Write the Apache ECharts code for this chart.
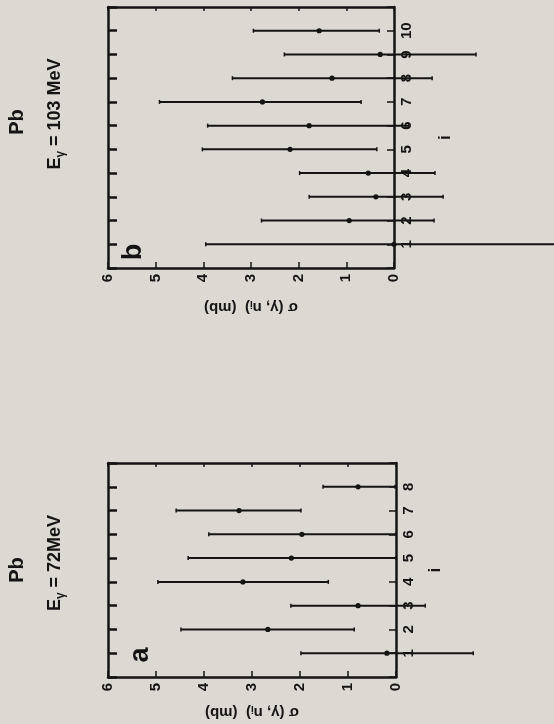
<!DOCTYPE html>
<html><head><meta charset="utf-8">
<script src="https://cdn.jsdelivr.net/npm/echarts@6/dist/echarts.min.js"></script>
<style>html,body{margin:0;padding:0;background:#dcd9d3;} #c{width:554px;height:724px;}</style>
</head><body><div id="c"></div>
<script>
// ---- Panel a : Pb, E_gamma = 72 MeV ----
const catsA  = [1, 2, 3, 4, 5, 6, 7, 8];
const valA   = [0.19, 2.67, 0.79, 3.19, 2.18, 1.96, 3.27, 0.79];
const lowA   = [-1.61, 0.87, -0.61, 1.41, 0.00, 0.00, 1.98, 0.02];
const highA  = [1.98, 4.48, 2.19, 4.96, 4.33, 3.90, 4.58, 1.52];
// ---- Panel b : Pb, E_gamma = 103 MeV ----
const catsB  = [1, 2, 3, 4, 5, 6, 7, 8, 9, 10];
const valB   = [0.00, 0.94, 0.38, 0.54, 2.18, 1.78, 2.76, 1.30, 0.29, 1.57];
const lowB   = [-3.95, -0.84, -1.03, -0.86, 0.36, -0.31, 0.69, -0.80, -1.72, 0.31];
const highB  = [3.95, 2.78, 1.78, 1.98, 4.02, 3.91, 4.92, 3.39, 2.30, 2.95];
// ---- axis texts ----
const sigmaMin = 0, sigmaMax = 6;
const titleA = ['Pb', '72MeV'];
const titleB = ['Pb', '103 MeV'];

const INK = '#141414';
const FONT = "'Liberation Sans', 'DejaVu Sans', sans-serif";

function renderBars(params, api) {
  const i = api.value(1);
  const pV = api.coord([api.value(0), i]);
  const pL = api.coord([api.value(2), i]);
  const pH = api.coord([api.value(3), i]);
  const cap = 2;
  return {
    type: 'group',
    children: [
      {type: 'line', shape: {x1: pL[0], y1: pL[1], x2: pH[0], y2: pH[1]}, style: {stroke: INK, lineWidth: 2}},
      {type: 'line', shape: {x1: pL[0], y1: pL[1] - cap, x2: pL[0], y2: pL[1] + cap}, style: {stroke: INK, lineWidth: 1.5}},
      {type: 'line', shape: {x1: pH[0], y1: pH[1] - cap, x2: pH[0], y2: pH[1] + cap}, style: {stroke: INK, lineWidth: 1.5}},
      {type: 'circle', shape: {cx: pV[0], cy: pV[1], r: 2.6}, style: {fill: INK}}
    ]
  };
}

function xAxes(grid, bottom, gap) {
  const base = {
    type: 'value', gridIndex: grid, min: sigmaMin, max: sigmaMax, interval: 1, inverse: true,
    splitLine: {show: false},
    axisLine: {show: true, onZero: false, lineStyle: {color: INK, width: 2.5}}
  };
  if (bottom) {
    return Object.assign({}, base, {
      position: 'bottom',
      axisTick: {show: true, inside: true, length: 6, lineStyle: {color: INK, width: 1.5}},
      axisLabel: {show: true, rotate: 90, margin: 6, color: INK, fontSize: 15, fontWeight: 'bold', fontFamily: FONT},
      name: '{t|σ (γ, n}{s|i}{t|)  (mb)}',
      nameLocation: 'middle', nameRotate: 180, nameGap: gap,
      nameTextStyle: {color: INK, fontFamily: FONT, rich: {
        t: {fontSize: 15, fontWeight: 'bold', fontFamily: FONT, color: INK},
        s: {fontSize: 10, fontWeight: 'bold', fontFamily: FONT, color: INK, padding: [7, 0, 0, 0]}
      }}
    });
  }
  return Object.assign({}, base, {
    position: 'top',
    axisTick: {show: true, inside: true, length: 4, lineStyle: {color: INK, width: 1.5}},
    axisLabel: {show: false}
  });
}

function yAxes(grid, maxI, right, gap) {
  const base = {
    type: 'value', gridIndex: grid, min: 0, max: maxI, interval: 1,
    splitLine: {show: false},
    axisLine: {show: true, onZero: false, lineStyle: {color: INK, width: 2.5}}
  };
  if (right) {
    return Object.assign({}, base, {
      position: 'right',
      axisTick: {show: true, inside: true, length: 7, lineStyle: {color: INK, width: 1.5}},
      axisLabel: {show: true, rotate: 90, margin: 5, color: INK, fontSize: 15, fontWeight: 'bold', fontFamily: FONT,
        formatter: v => (v >= 1 && v < maxI) ? String(v) : ''},
      name: 'i', nameLocation: 'middle', nameRotate: 90, nameGap: gap,
      nameTextStyle: {color: INK, fontSize: 16, fontWeight: 'bold', fontFamily: FONT}
    });
  }
  return Object.assign({}, base, {
    position: 'left',
    axisTick: {show: true, inside: true, length: 9, lineStyle: {color: INK, width: 2.5}},
    axisLabel: {show: false}
  });
}

function titleText(x, y, parts, size) {
  return {type: 'text', x: x, y: y, rotation: Math.PI / 2,
    style: {text: parts, fill: INK, font: 'bold ' + size + 'px ' + FONT, align: 'center', verticalAlign: 'middle'}};
}
function energyText(x, y, rest) {
  return {type: 'text', x: x, y: y, rotation: Math.PI / 2,
    style: {
      text: '{e|E}{g|γ}{e| = ' + rest + '}',
      align: 'center', verticalAlign: 'middle',
      rich: {
        e: {fontSize: 18, fontWeight: 'bold', fontFamily: FONT, fill: INK, color: INK, lineHeight: 24, verticalAlign: 'middle'},
        g: {fontSize: 12, fontWeight: 'bold', fontFamily: FONT, fill: INK, color: INK, lineHeight: 12, padding: [8, 0, 0, 0], verticalAlign: 'bottom'}
      }
    }};
}

const chart = echarts.init(document.getElementById('c'), null, {renderer: 'canvas'});
chart.setOption({
  backgroundColor: '#dcd9d3',
  animation: false,
  grid: [
    {left: 108, top: 7, width: 286, height: 261},
    {left: 108, top: 463, width: 288, height: 214}
  ],
  xAxis: [xAxes(0, true, 31), xAxes(0, false), xAxes(1, true, 27), xAxes(1, false)],
  yAxis: [yAxes(0, 11, true, 44), yAxes(0, 11, false), yAxes(1, 9, true, 32), yAxes(1, 9, false)],
  series: [
    {type: 'custom', xAxisIndex: 0, yAxisIndex: 0, renderItem: renderBars, clip: false,
     encode: {x: [0, 2, 3], y: 1},
     data: catsB.map((c, k) => [valB[k], c, lowB[k], highB[k]])},
    {type: 'custom', xAxisIndex: 2, yAxisIndex: 2, renderItem: renderBars, clip: false,
     encode: {x: [0, 2, 3], y: 1},
     data: catsA.map((c, k) => [valA[k], c, lowA[k], highA[k]])}
  ],
  graphic: [
    titleText(17, 122, titleB[0], 20),
    energyText(55, 114, titleB[1]),
    titleText(17, 570, titleA[0], 20),
    energyText(55, 563, titleA[1]),
    {type: 'text', x: 134, y: 252, rotation: Math.PI / 2, style: {text: 'b', fill: INK, font: 'bold 27px ' + FONT, align: 'center', verticalAlign: 'middle'}},
    {type: 'text', x: 141, y: 655, rotation: Math.PI / 2, style: {text: 'a', fill: INK, font: 'bold 27px ' + FONT, align: 'center', verticalAlign: 'middle'}}
  ]
});
</script>
</body></html>
